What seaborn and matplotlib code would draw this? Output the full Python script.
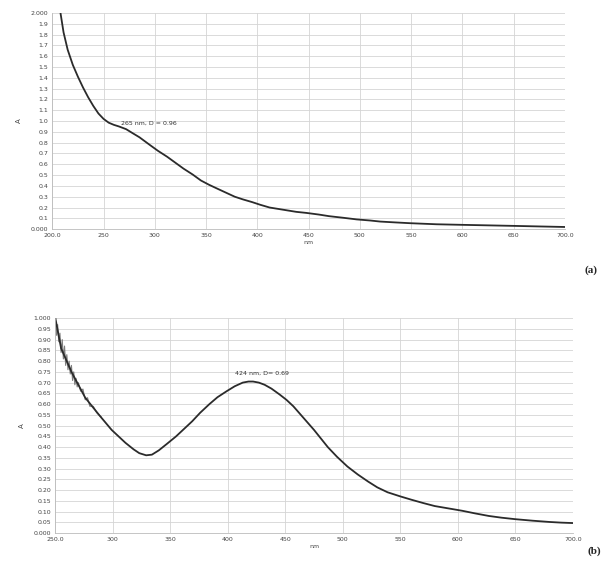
import matplotlib
matplotlib.use('Agg')
import matplotlib.pyplot as plt
import seaborn as sns
import pandas as pd

# (a) spectrum
wl_a = [208, 211, 215, 220, 225, 230, 235, 240, 245, 250, 255, 260, 265, 272, 278, 285, 295, 303,
        312, 320, 328, 337, 345, 353, 362, 370, 378, 386, 395, 403, 412, 425, 438, 448, 460, 470,
        484, 497, 510, 520, 535, 549, 562, 575, 599, 625, 651, 675, 700]
abs_a = [2.00, 1.82, 1.66, 1.52, 1.41, 1.31, 1.22, 1.14, 1.07, 1.02, 0.985, 0.965, 0.95, 0.925, 0.89,
         0.85, 0.78, 0.725, 0.67, 0.615, 0.56, 0.505, 0.45, 0.41, 0.37, 0.335, 0.30, 0.275, 0.25,
         0.225, 0.20, 0.18, 0.16, 0.15, 0.135, 0.12, 0.105, 0.09, 0.08, 0.07, 0.062, 0.055, 0.05,
         0.045, 0.04, 0.035, 0.03, 0.025, 0.02]
xticks_a = [200, 250, 300, 350, 400, 450, 500, 550, 600, 650, 700]
xlabels_a = ['200.0', '250', '300', '350', '400', '450', '500', '550', '600', '650', '700.0']
yticks_a = [round(i * 0.1, 1) for i in range(21)]
ylabels_a = ['0.000'] + [str(v) for v in yticks_a[1:-1]] + ['2.000']
note_a = '265 nm, D = 0.96'

# (b) spectrum
wl_b = [250, 255, 264, 276, 288, 299, 311, 318, 323, 329, 334, 340, 347, 355, 362, 369, 376, 384,
        391, 399, 406, 413, 418, 422, 427, 432, 438, 445, 451, 457, 466, 475, 481, 487, 495, 504,
        513, 522, 530, 539, 550, 560, 570, 580, 592, 604, 615, 627, 638, 650, 665, 680, 690, 700]
abs_b = [1.00, 0.86, 0.75, 0.63, 0.55, 0.48, 0.42, 0.39, 0.372, 0.362, 0.365, 0.385, 0.415, 0.45,
         0.485, 0.52, 0.56, 0.60, 0.632, 0.66, 0.683, 0.70, 0.705, 0.705, 0.70, 0.69, 0.672, 0.645,
         0.62, 0.59, 0.535, 0.48, 0.44, 0.40, 0.355, 0.31, 0.273, 0.24, 0.213, 0.19, 0.171, 0.155,
         0.14, 0.126, 0.115, 0.104, 0.092, 0.08, 0.072, 0.065, 0.058, 0.052, 0.049, 0.047]
# noisy start of the (b) trace
noise_wl = [250, 251, 252, 253, 254, 255, 256, 257, 258, 259, 260, 261, 262, 263, 264, 265, 266, 267,
            268, 269, 270, 272, 274, 276, 278, 280, 283, 286, 290]
noise_abs = [0.99, 0.92, 0.97, 0.89, 0.93, 0.84, 0.90, 0.81, 0.87, 0.78, 0.83, 0.76, 0.80, 0.74, 0.78,
             0.71, 0.75, 0.69, 0.72, 0.68, 0.70, 0.66, 0.67, 0.62, 0.63, 0.59, 0.59, 0.56, 0.54]
xticks_b = [250, 300, 350, 400, 450, 500, 550, 600, 650, 700]
xlabels_b = ['250.0', '300', '350', '400', '450', '500', '550', '600', '650', '700.0']
yticks_b = [round(i * 0.05, 2) for i in range(21)]
ylabels_b = ['0.000'] + ['%.2f' % v for v in yticks_b[1:-1]] + ['1.000']
note_b = '424 nm, D= 0.69'

sns.set_style('white')
fig = plt.figure(figsize=(6.08, 5.63), dpi=100)
ax_a = fig.add_axes([0.086, 0.593, 0.843, 0.384])
ax_b = fig.add_axes([0.091, 0.053, 0.851, 0.382])

line_col = '#2b2b2b'
grid_col = '#d4d4d4'


def style_axis(ax, xt, xl, yt, yl, xlim, ylim):
    ax.set_xlim(*xlim)
    ax.set_ylim(*ylim)
    ax.set_xticks(xt)
    ax.set_xticklabels(xl)
    ax.set_yticks(yt)
    ax.set_yticklabels(yl)
    ax.tick_params(axis='both', labelsize=4.5, length=0, pad=3, colors='#444444')
    ax.grid(True, color=grid_col, linewidth=0.6)
    for side in ['top', 'right']:
        ax.spines[side].set_visible(False)
    for side in ['left', 'bottom']:
        ax.spines[side].set_color('#bbbbbb')
        ax.spines[side].set_linewidth(0.6)
    ax.set_xlabel('nm', fontsize=4.5, labelpad=1, color='#444444')
    ax.set_ylabel('A', fontsize=5, labelpad=6, color='#444444', rotation=90)


df_a = pd.DataFrame({'nm': wl_a, 'A': abs_a})
sns.lineplot(data=df_a, x='nm', y='A', ax=ax_a, color=line_col, linewidth=1.3)
style_axis(ax_a, xticks_a, xlabels_a, yticks_a, ylabels_a, (200, 700), (0, 2.0))
ax_a.text(267, 0.98, note_a, fontsize=4.5, color='#333333', va='center')

df_noise = pd.DataFrame({'nm': noise_wl, 'A': noise_abs})
sns.lineplot(data=df_noise, x='nm', y='A', ax=ax_b, color='#666666', linewidth=0.8, alpha=0.85)
df_b = pd.DataFrame({'nm': wl_b, 'A': abs_b})
sns.lineplot(data=df_b, x='nm', y='A', ax=ax_b, color=line_col, linewidth=1.3)
style_axis(ax_b, xticks_b, xlabels_b, yticks_b, ylabels_b, (250, 700), (0, 1.0))
ax_b.text(406, 0.745, note_b, fontsize=4.5, color='#333333', va='center')

fig.text(0.972, 0.52, '(a)', fontsize=8, fontweight='bold', family='Liberation Serif', ha='center', va='center')
fig.text(0.978, 0.012, '(b)', fontsize=8, fontweight='bold', family='Liberation Serif', ha='center', va='bottom')

fig.savefig('out.png', dpi=100)
